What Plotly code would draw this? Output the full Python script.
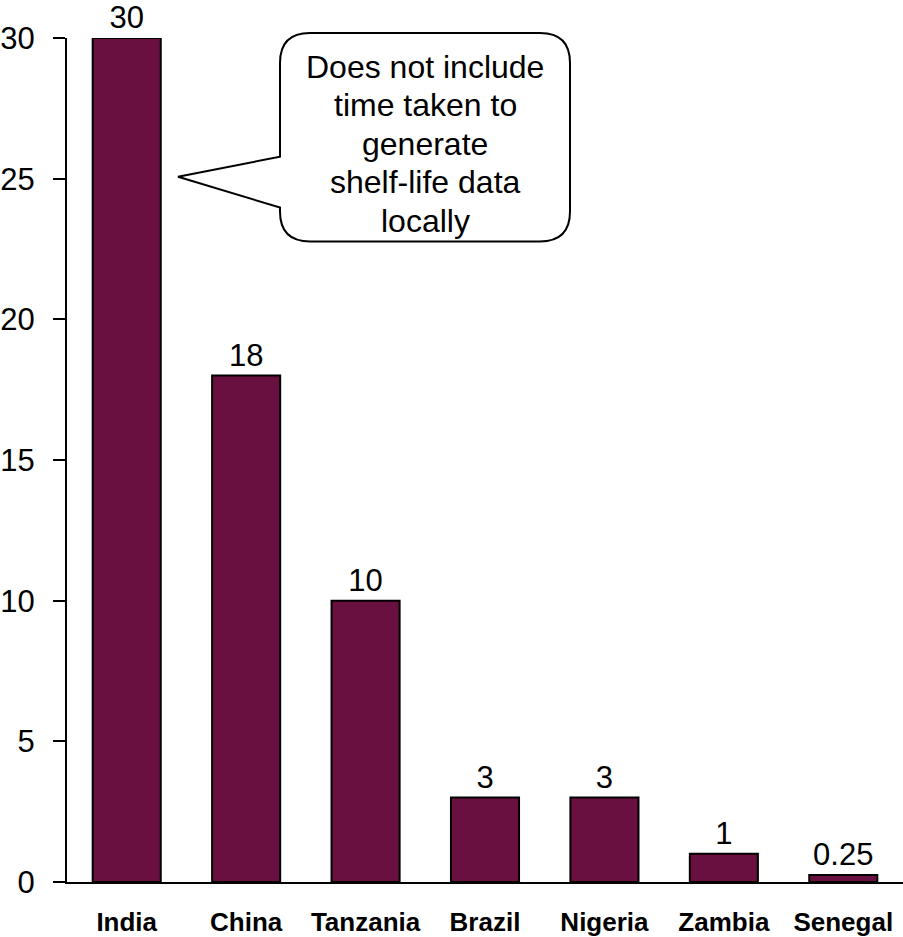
import plotly.graph_objects as go

# Country categories and durations
countries = ["India", "China", "Tanzania", "Brazil", "Nigeria", "Zambia", "Senegal"]
durations = [30, 18, 10, 3, 3, 1, 0.25]
value_labels = ["30", "18", "10", "3", "3", "1", "0.25"]
y_ticks = [0, 5, 10, 15, 20, 25, 30]
callout_lines = ["Does not include", "time taken to", "generate", "shelf-life data", "locally"]

W, H = 903, 937
ML, MR, MT, MB = 67, 0, 38, 53
FONT = "Arial, Liberation Sans, sans-serif"
BAR = "#6a1040"

fig = go.Figure(
    go.Bar(
        x=countries,
        y=durations,
        text=value_labels,
        texttemplate="%{text}",
        textposition="outside",
        constraintext="none",
        cliponaxis=False,
        textfont=dict(family=FONT, size=31, color="black"),
        marker=dict(color=BAR, line=dict(color="black", width=2)),
        hoverinfo="skip",
    )
)

# Helpers converting pixel positions to paper coordinates for the callout
pw, ph = W - ML - MR, H - MT - MB


def px(x):
    return (x - ML) / pw


def py(y):
    return (H - MB - y) / ph


left, right, top, bot, r = 280, 570, 33, 242, 30
tip_x, tip_y, base_top, base_bot = 178, 177, 157, 208
pts = [
    ("M", (left + r, top)),
    ("L", (right - r, top)),
    ("Q", (right, top), (right, top + r)),
    ("L", (right, bot - r)),
    ("Q", (right, bot), (right - r, bot)),
    ("L", (left + r, bot)),
    ("Q", (left, bot), (left, bot - r)),
    ("L", (left, base_bot)),
    ("L", (tip_x, tip_y)),
    ("L", (left, base_top)),
    ("L", (left, top + r)),
    ("Q", (left, top), (left + r, top)),
]
path = ""
for cmd, *coords in pts:
    path += cmd + " " + " ".join(f"{px(x):.5f},{py(y):.5f}" for x, y in coords) + " "
path += "Z"

fig.add_shape(
    type="path",
    path=path,
    xref="paper",
    yref="paper",
    line=dict(color="black", width=2),
    fillcolor="white",
    layer="above",
)

# One annotation per callout line for tighter line spacing
first_line_y, line_step = 67, 38.5
for i, line in enumerate(callout_lines):
    fig.add_annotation(
        x=px((left + right) / 2),
        y=py(first_line_y + i * line_step),
        xref="paper",
        yref="paper",
        text=line,
        showarrow=False,
        font=dict(family=FONT, size=32, color="black"),
        xanchor="center",
        yanchor="middle",
    )

fig.update_layout(
    width=W,
    height=H,
    margin=dict(l=ML, r=MR, t=MT, b=MB),
    paper_bgcolor="white",
    plot_bgcolor="white",
    bargap=0.43,
    showlegend=False,
    font=dict(family=FONT, color="black"),
)

fig.update_xaxes(
    showline=True,
    linecolor="black",
    linewidth=1.5,
    ticks="",
    showgrid=False,
    tickfont=dict(family=FONT, size=26, color="black", weight="bold"),
    ticklabelstandoff=16,
)

fig.update_yaxes(
    range=[0, 30],
    tickvals=y_ticks,
    ticktext=[str(v) for v in y_ticks],
    showline=True,
    linecolor="black",
    linewidth=2,
    ticks="outside",
    ticklen=12,
    tickwidth=2,
    tickcolor="black",
    showgrid=False,
    zeroline=False,
    tickfont=dict(family=FONT, size=31, color="black"),
    ticklabelstandoff=12,
)

fig.write_html("out.html")
